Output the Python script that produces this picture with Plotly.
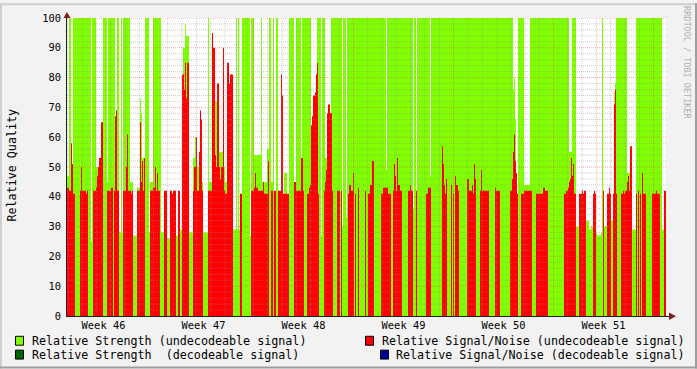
import plotly.graph_objects as go

# ---------------- data ----------------
N_SAMPLES = 599          # number of consolidated samples on the time axis
START_WEEK = 46.135      # time of first sample, in ISO-week units
STEP_WEEK = 0.01         # sample step, in weeks

# run-length encoded samples: index where each segment starts (10 segments per line)
seg_start = [
    0, 2, 4, 5, 6, 8, 13, 14, 15, 19,
    20, 21, 24, 25, 26, 29, 30, 31, 32, 34,
    36, 40, 41, 44, 46, 47, 48, 49, 50, 52,
    54, 55, 56, 59, 60, 61, 63, 64, 65, 66,
    70, 73, 74, 75, 76, 77, 78, 82, 83, 86,
    88, 89, 90, 91, 93, 94, 97, 100, 103, 105,
    106, 109, 111, 113, 115, 116, 117, 118, 119, 120,
    122, 126, 127, 128, 129, 130, 132, 133, 134, 135,
    136, 141, 142, 145, 146, 148, 149, 150, 152, 153,
    154, 156, 157, 158, 160, 162, 163, 166, 169, 170,
    171, 172, 173, 175, 183, 184, 187, 188, 189, 191,
    194, 195, 196, 197, 200, 201, 202, 204, 206, 207,
    209, 211, 214, 215, 216, 217, 220, 222, 227, 229,
    234, 235, 236, 237, 240, 242, 243, 244, 245, 246,
    248, 249, 250, 251, 252, 254, 255, 257, 258, 259,
    260, 261, 263, 264, 265, 266, 270, 273, 274, 275,
    276, 279, 280, 281, 282, 284, 286, 287, 288, 289,
    291, 292, 298, 299, 301, 303, 305, 307, 314, 316,
    319, 320, 321, 324, 326, 327, 328, 329, 330, 331,
    333, 335, 341, 343, 344, 346, 347, 349, 350, 359,
    361, 363, 364, 375, 376, 377, 378, 379, 380, 384,
    385, 386, 387, 388, 389, 391, 392, 400, 402, 405,
    406, 407, 408, 409, 413, 414, 415, 422, 428, 429,
    433, 443, 445, 446, 447, 448, 449, 450, 451, 454,
    457, 463, 465, 469, 476, 478, 481, 497, 499, 501,
    502, 503, 504, 505, 506, 507, 509, 512, 515, 516,
    517, 519, 522, 524, 526, 527, 528, 529, 530, 534,
    535, 536, 537, 540, 542, 543, 544, 546, 547, 548,
    549, 550, 554, 556, 557, 558, 560, 561, 562, 563,
    565, 569, 570, 571, 572, 573, 574, 575, 576, 579,
    585, 589, 590, 593, 595, 597,
]
# Relative Strength (undecodeable signal), one value per segment
strength_undecodeable = [
    47, 100, 45, 45, 100, 100, 100, 100, 100, 100,
    100, 100, 25, 100, 100, 50, 50, 50, 47, 45,
    100, 45, 100, 100, 100, 100, 45, 45, 100, 28,
    100, 28, 100, 100, 100, 100, 45, 45, 45, 27,
    43, 73, 68, 53, 53, 53, 100, 28, 45, 100,
    100, 100, 100, 100, 100, 28, 40, 26, 40, 40,
    40, 27, 40, 29, 52, 90, 90, 98, 94, 94,
    28, 53, 53, 60, 60, 50, 45, 45, 45, 45,
    28, 100, 45, 82, 82, 72, 72, 60, 55, 55,
    55, 55, 50, 45, 55, 57, 55, 29, 100, 29,
    100, 29, 29, 100, 27, 100, 54, 54, 54, 54,
    100, 45, 45, 45, 56, 56, 100, 45, 100, 40,
    100, 40, 44, 44, 40, 48, 40, 100, 44, 100,
    45, 100, 100, 100, 100, 100, 100, 45, 45, 45,
    45, 45, 100, 100, 100, 27, 100, 100, 53, 53,
    50, 50, 50, 100, 100, 100, 100, 100, 100, 30,
    100, 33, 100, 100, 100, 100, 100, 100, 100, 100,
    100, 100, 100, 100, 100, 100, 100, 100, 100, 100,
    49, 100, 100, 100, 100, 100, 100, 100, 100, 100,
    100, 100, 100, 100, 100, 36, 100, 33, 100, 100,
    100, 47, 100, 100, 100, 100, 100, 100, 100, 100,
    100, 100, 100, 100, 100, 100, 100, 100, 100, 100,
    100, 100, 100, 100, 100, 100, 100, 100, 100, 100,
    100, 100, 100, 76, 80, 66, 40, 40, 100, 100,
    44, 100, 100, 100, 100, 100, 100, 100, 100, 100,
    55, 55, 55, 100, 100, 100, 30, 30, 30, 30,
    30, 32, 29, 30, 30, 30, 30, 28, 27, 28,
    100, 30, 30, 30, 30, 30, 32, 40, 75, 78,
    100, 100, 100, 100, 100, 100, 48, 48, 48, 56,
    29, 100, 100, 100, 100, 100, 100, 100, 100, 100,
    100, 100, 100, 100, 29, 29,
]
# Relative Signal/Noise (undecodeable signal), one value per segment
snr_undecodeable = [
    43, 42, 58, 51, 41, 0, 42, 50, 42, 41,
    42, 0, 0, 0, 42, 43, 47, 50, 53, 65,
    0, 42, 42, 43, 0, 42, 67, 69, 42, 0,
    0, 0, 42, 50, 61, 42, 42, 41, 42, 0,
    42, 65, 45, 52, 42, 53, 0, 0, 42, 43,
    50, 42, 48, 42, 0, 0, 42, 0, 42, 41,
    42, 0, 42, 0, 81, 81, 76, 85, 73, 85,
    0, 42, 50, 50, 60, 42, 55, 69, 66, 42,
    0, 42, 42, 95, 90, 54, 50, 78, 50, 46,
    50, 90, 42, 41, 85, 78, 81, 0, 0, 0,
    0, 0, 41, 0, 0, 42, 43, 48, 43, 42,
    42, 42, 45, 41, 41, 52, 0, 42, 0, 42,
    0, 42, 81, 74, 41, 41, 41, 0, 45, 42,
    53, 53, 42, 0, 41, 43, 44, 64, 67, 74,
    75, 81, 85, 41, 0, 0, 0, 42, 45, 49,
    68, 71, 68, 68, 42, 0, 42, 0, 42, 0,
    0, 0, 0, 41, 44, 42, 48, 0, 41, 0,
    43, 0, 42, 0, 41, 44, 52, 0, 41, 43,
    43, 43, 41, 0, 42, 51, 47, 42, 53, 44,
    42, 0, 42, 44, 42, 0, 0, 42, 0, 41,
    43, 43, 0, 57, 51, 44, 41, 46, 0, 44,
    0, 41, 0, 47, 44, 42, 0, 46, 42, 44,
    41, 51, 46, 0, 42, 49, 42, 0, 43, 42,
    0, 42, 46, 55, 61, 52, 48, 41, 0, 41,
    42, 42, 0, 41, 43, 42, 0, 41, 42, 43,
    45, 46, 53, 47, 51, 41, 0, 41, 42, 41,
    42, 0, 0, 0, 41, 42, 41, 0, 0, 0,
    0, 42, 0, 41, 43, 41, 0, 41, 71, 76,
    41, 0, 41, 42, 41, 42, 45, 47, 42, 57,
    0, 41, 0, 42, 0, 41, 0, 48, 41, 0,
    41, 42, 41, 0, 0, 42,
]
strength_decodeable = []   # no samples in the period
snr_decodeable = []        # no samples in the period

week_numbers = [46, 47, 48, 49, 50, 51]
week_labels = ["Week 46", "Week 47", "Week 48", "Week 49", "Week 50", "Week 51"]
y_ticks = [0, 10, 20, 30, 40, 50, 60, 70, 80, 90, 100]

legend_entries = [
    ("Relative Strength (undecodeable signal)", "#7FFF00"),
    ("Relative Signal/Noise (undecodeable signal)", "#FF0000"),
    ("Relative Strength  (decodeable signal)", "#006400"),
    ("Relative Signal/Noise (decodeable signal)", "#000099"),
]

if not (len(seg_start) == len(strength_undecodeable) == len(snr_undecodeable)):
    raise SystemExit(f"length mismatch {len(seg_start)} {len(strength_undecodeable)} {len(snr_undecodeable)}")

# ---------------- expand run-length segments ----------------
def expand(values):
    out = []
    bounds = seg_start[1:] + [N_SAMPLES]
    for s, e, v in zip(seg_start, bounds, values):
        out.extend([v] * (e - s))
    return out

G = expand(strength_undecodeable)
R = expand(snr_undecodeable)
xs = [START_WEEK + i * STEP_WEEK for i in range(N_SAMPLES + 1)]
x_end = xs[-1]

# ---------------- geometry ----------------
W, H = 697, 369
ML, MR, MT, MB = 67, W - 666, 15, H - 316
PW, PH = W - ML - MR, H - MT - MB

def px(xp):  # pixel x -> paper
    return (xp - ML) / PW

def py(yp):  # pixel y -> paper
    return (H - MB - yp) / PH

FONT = "DejaVu Sans Mono"

fig = go.Figure()
fig.add_trace(go.Scatter(x=xs, y=G + [G[-1]], mode="lines", line=dict(width=0, shape="hv"),
                         fill="tozeroy", fillcolor="#7FFF00", hoverinfo="skip", showlegend=False))
fig.add_trace(go.Scatter(x=xs, y=R + [R[-1]], mode="lines", line=dict(width=0, shape="hv"),
                         fill="tozeroy", fillcolor="#FF0000", hoverinfo="skip", showlegend=False))

shapes = []
MINOR = "rgba(143,143,143,0.45)"
MAJOR = "rgba(222,79,79,0.5)"
# horizontal grid, above the data like rrdtool
for v in range(2, 101, 2):
    shapes.append(dict(type="line", xref="paper", yref="y", x0=0, x1=1, y0=v, y1=v, layer="above",
                       line=dict(color=MAJOR if v % 10 == 0 else MINOR, width=1, dash="1px,1px")))
# vertical grid: days and weeks
d = 0
while True:
    w = week_numbers[0] + d / 7
    major = d % 7 == 0
    d += 1
    if w <= START_WEEK:
        continue
    if w > x_end:
        break
    shapes.append(dict(type="line", xref="x", yref="paper", x0=w, x1=w, y0=0, y1=1, layer="above",
                       line=dict(color=MAJOR if major else MINOR, width=1, dash="1px,1px")))

# axes lines
shapes.append(dict(type="line", xref="paper", yref="paper", x0=px(66.5), x1=px(66.5), y0=0, y1=py(12),
                   line=dict(color="#1F1F1F", width=1), layer="above"))
shapes.append(dict(type="line", xref="paper", yref="paper", x0=px(66), x1=px(671), y0=py(316.5), y1=py(316.5),
                   line=dict(color="#1F1F1F", width=1), layer="above"))
# arrow heads
shapes.append(dict(type="path", xref="paper", yref="paper",
                   path=f"M {px(63.5)} {py(15)} L {px(70.5)} {py(15)} L {px(67)} {py(9)} Z",
                   fillcolor="#801F1F", line=dict(width=0), layer="above"))
shapes.append(dict(type="path", xref="paper", yref="paper",
                   path=f"M {px(669)} {py(312.5)} L {px(669)} {py(320)} L {px(676)} {py(316.3)} Z",
                   fillcolor="#801F1F", line=dict(width=0), layer="above"))
# outer frame (3D look)
shapes.append(dict(type="rect", xref="paper", yref="paper", x0=px(0), x1=px(W), y0=py(0), y1=py(2),
                   fillcolor="#CFCFCF", line=dict(width=0)))
shapes.append(dict(type="rect", xref="paper", yref="paper", x0=px(0), x1=px(2), y0=py(0), y1=py(H),
                   fillcolor="#CFCFCF", line=dict(width=0)))
shapes.append(dict(type="rect", xref="paper", yref="paper", x0=px(0), x1=px(W), y0=py(H - 2), y1=py(H),
                   fillcolor="#9E9E9E", line=dict(width=0)))
shapes.append(dict(type="rect", xref="paper", yref="paper", x0=px(W - 2), x1=px(W), y0=py(0), y1=py(H),
                   fillcolor="#9E9E9E", line=dict(width=0)))

# legend
annotations = []
leg_pos = [(15, 30, 341), (365, 380, 341), (15, 30, 355), (380, 394, 355)]
for (label, color), (sx, tx, ty) in zip(legend_entries, leg_pos):
    shapes.append(dict(type="rect", xref="paper", yref="paper", x0=px(sx + 0.5), x1=px(sx + 8.5),
                       y0=py(ty - 4.5), y1=py(ty + 4.5), fillcolor=color,
                       line=dict(color="#000000", width=1)))
    annotations.append(dict(text=label.replace(" ", "\u00a0"), xref="paper", yref="paper", x=px(tx), y=py(ty),
                            xanchor="left", yanchor="middle", showarrow=False,
                            font=dict(family=FONT, size=11.7, color="#000000")))

annotations.append(dict(text="Relative Quality", xref="paper", yref="paper", x=px(12), y=py(164),
                        xanchor="center", yanchor="middle", textangle=-90, showarrow=False,
                        font=dict(family=FONT, size=11.7, color="#000000")))
annotations.append(dict(text="RRDTOOL / TOBI OETIKER".replace(" ", "\u00a0"), xref="paper", yref="paper",
                        x=px(687.5), y=py(60), xanchor="center", yanchor="middle", textangle=90,
                        showarrow=False, font=dict(family=FONT, size=8.5, color="#B0B0B0")))

fig.update_layout(
    width=W, height=H,
    margin=dict(l=ML, r=MR, t=MT, b=MB, pad=0),
    paper_bgcolor="#F2F2F2", plot_bgcolor="#FFFFFF",
    showlegend=False,
    xaxis=dict(range=[START_WEEK, x_end], showgrid=False, zeroline=False, showline=False,
               tickmode="array", tickvals=[w + 0.5 for w in week_numbers], ticktext=week_labels,
               ticks="", ticklabelstandoff=2,
               tickfont=dict(family=FONT, size=10.4, color="#000000"), fixedrange=True),
    yaxis=dict(range=[0, 100], showgrid=False, zeroline=False, showline=False,
               tickmode="array", tickvals=y_ticks, ticktext=[str(v) for v in y_ticks],
               ticks="", ticklabelstandoff=5,
               tickfont=dict(family=FONT, size=10.4, color="#000000"), fixedrange=True),
    shapes=shapes, annotations=annotations,
)

fig.write_html("out.html")
